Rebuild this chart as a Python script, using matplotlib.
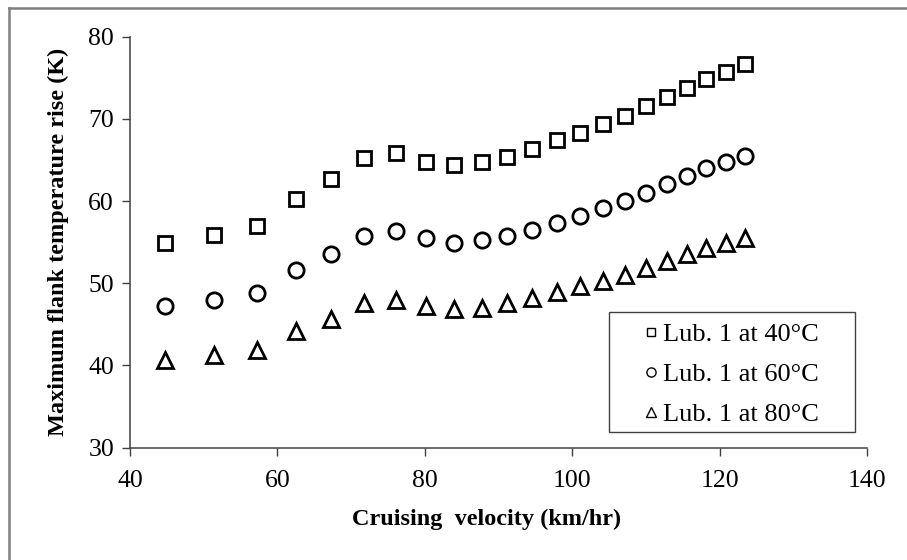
import numpy as np
import matplotlib as mpl
mpl.use('Agg')
import matplotlib.pyplot as plt
from matplotlib.lines import Line2D
from matplotlib.patches import Rectangle

# values
velocity = [44.8, 51.4, 57.2, 62.5, 67.3, 71.8, 76.1, 80.2, 84.0, 87.7, 91.1,
            94.6, 97.9, 101.0, 104.2, 107.1, 110.0, 112.8, 115.6, 118.2, 120.9, 123.4]
rise_40 = [54.9, 55.9, 57.0, 60.3, 62.7, 65.2, 65.8, 64.8, 64.4, 64.7, 65.4,
           66.3, 67.4, 68.3, 69.4, 70.4, 71.6, 72.6, 73.7, 74.8, 75.7, 76.7]
rise_60 = [47.2, 48.0, 48.8, 51.6, 53.5, 55.7, 56.4, 55.5, 54.9, 55.2, 55.7,
           56.5, 57.3, 58.2, 59.1, 60.0, 61.0, 62.1, 63.0, 64.0, 64.8, 65.5]
rise_80 = [40.7, 41.3, 41.9, 44.2, 45.7, 47.6, 48.0, 47.2, 46.8, 47.0, 47.6,
           48.2, 48.9, 49.6, 50.3, 51.0, 51.8, 52.7, 53.5, 54.3, 54.9, 55.5]
labels = ['Lub. 1 at 40°C', 'Lub. 1 at 60°C', 'Lub. 1 at 80°C']

plt.rcParams['font.family'] = ['Liberation Serif', 'DejaVu Serif']

fig = plt.figure(figsize=(9.07, 5.6), dpi=100)
ax = fig.add_axes([130/907, 1-447.5/560, 737/907, 410.8/560])

mk = dict(linestyle='none', markerfacecolor='none', markeredgecolor='black',
          markeredgewidth=2.0)
ax.plot(velocity, rise_40, marker='s', markersize=10.5, label=labels[0], **mk)
ax.plot(velocity, rise_60, marker='o', markersize=11, label=labels[1], **mk)
ax.plot(velocity, rise_80, marker='^', markersize=11, label=labels[2], **mk)

ax.set_xlim(40, 140)
ax.set_ylim(30, 80)
ax.set_xticks(np.arange(40, 141, 20))
ax.set_yticks(np.arange(30, 81, 10))
for s in ['top', 'right']:
    ax.spines[s].set_visible(False)
for s in ['left', 'bottom']:
    ax.spines[s].set_color('#404040')
    ax.spines[s].set_linewidth(1.1)
ax.tick_params(direction='out', length=5.5, width=1.0, color='#404040',
               labelsize=18.5)
ax.tick_params(axis='x', pad=11)
ax.tick_params(axis='y', pad=6)

ax.set_xlabel('Cruising  velocity (km/hr)', fontsize=17.5, fontweight='bold', labelpad=12)
ax.xaxis.label.set_x(0.484)
ax.set_ylabel('Maximum flank temperature rise (K)', fontsize=17.5, fontweight='bold', labelpad=14)

# legend box drawn separately so it can be wider than its contents
ax.add_patch(Rectangle((0.650, 0.0377), 0.9837 - 0.650, 0.3298 - 0.0377,
                       transform=ax.transAxes, facecolor='white',
                       edgecolor='#404040', linewidth=1.0, zorder=4))
leg = ax.legend(loc='center left', bbox_to_anchor=(0.696, 0.178), borderaxespad=0,
                borderpad=0, fontsize=19, markerscale=0.6, handlelength=0.6,
                handletextpad=0.16, labelspacing=0.62, frameon=False)
leg.set_zorder(5)
for h in leg.legend_handles:
    h.set_markeredgewidth(1.0)

# grey frame around the picture (only left and top edges visible)
fx = 9/907
fy = 1 - 8/560
fig.add_artist(Line2D([fx, fx], [0, fy], transform=fig.transFigure,
                      color='#808080', linewidth=1.8))
fig.add_artist(Line2D([fx, 1], [fy, fy], transform=fig.transFigure,
                      color='#808080', linewidth=1.8))

fig.savefig('out.png', dpi=100)
